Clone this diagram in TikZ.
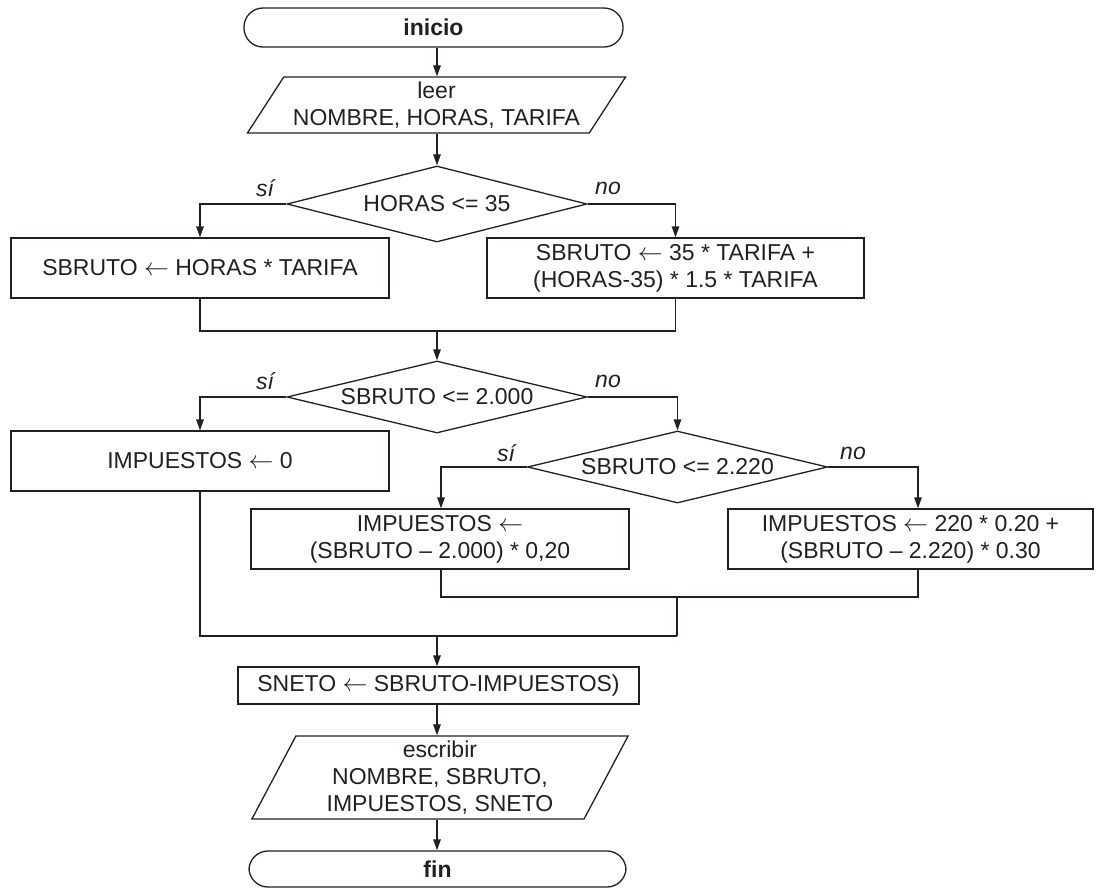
\documentclass[tikz,border=0pt]{standalone}
\usepackage{fontspec}
\setmainfont{Liberation Sans}
\usetikzlibrary{shapes.geometric,arrows.meta,calc}
\definecolor{ink}{HTML}{231F20}
\tikzset{
  base/.style={draw=ink, line width=1.3pt, text=ink, inner sep=0pt, align=center,
    font=\fontsize{23}{27}\selectfont},
  proc/.style={base, rectangle},
  term/.style={base, rectangle, rounded corners=19pt},
  io/.style={base, trapezium, trapezium stretches=true},
  cond/.style={base, diamond, aspect=4},
  flow/.style={draw=ink, line width=1.3pt, -{Triangle[length=11pt,width=7.5pt]}},
  link/.style={draw=ink, line width=1.3pt},
  tag/.style={text=ink, font=\fontsize{23}{27}\selectfont\itshape, inner sep=0pt}
}
\begin{document}
\begin{tikzpicture}[x=1pt,y=-1pt]
\useasboundingbox (0,0) rectangle (1096,887);

% start and input
\node[term, minimum width=379pt, minimum height=39pt] (inicio) at (433.5,27.5) {\bfseries inicio};
\node[io, trapezium left angle=53.8, trapezium right angle=126.2,
      minimum width=379pt, minimum height=56pt] (leer) at (436.5,105)
      {leer\\NOMBRE, HORAS, TARIFA};

% gross salary
\node[cond, minimum width=300pt, minimum height=76pt] (d1) at (437,204) {HORAS <= 35};
\node[proc, minimum width=378pt, minimum height=60pt] (b1) at (200,268)
      {SBRUTO $\leftarrow$ HORAS * TARIFA};
\node[proc, minimum width=377pt, minimum height=60pt] (b2) at (675.5,268)
      {SBRUTO $\leftarrow$ 35 * TARIFA +\\(HORAS-35) * 1.5 * TARIFA};

% taxes
\node[cond, minimum width=300pt, minimum height=72pt] (d2) at (437,397) {SBRUTO <= 2.000};
\node[proc, minimum width=378pt, minimum height=60pt] (b3) at (200,461)
      {IMPUESTOS $\leftarrow$ 0};
\node[cond, minimum width=300pt, minimum height=72pt] (d3) at (677.5,467) {SBRUTO <= 2.220};
\node[proc, minimum width=378pt, minimum height=60pt] (b4) at (440,539)
      {IMPUESTOS $\leftarrow$\\(SBRUTO -- 2.000) * 0,20};
\node[proc, minimum width=365pt, minimum height=60pt] (b5) at (910.5,539)
      {IMPUESTOS $\leftarrow$ 220 * 0.20 +\\(SBRUTO -- 2.220) * 0.30};

% net salary, output, end
\node[proc, minimum width=401pt, minimum height=37pt] (sneto) at (438.5,685.5)
      {SNETO $\leftarrow$ SBRUTO-IMPUESTOS)};
\node[io, trapezium left angle=64.8, trapezium right angle=115.2,
      minimum width=377pt, minimum height=83pt] (escribir) at (440,777.5)
      {escribir\\NOMBRE, SBRUTO,\\IMPUESTOS, SNETO};
\node[term, minimum width=377pt, minimum height=36pt] (fin) at (437.5,869) {\bfseries fin};

% junction points
\coordinate (m1) at (437,331);
\coordinate (m3) at (677,597);
\coordinate (m2) at (437,636);
\coordinate (r5) at (918,539);

% branch labels
\node[tag] at (265,188) {sí};
\node[tag] at (608,188) {no};
\node[tag] at (265,381) {sí};
\node[tag] at (608,381) {no};
\node[tag] at (506,453) {sí};
\node[tag] at (853,453) {no};

% connectors
\draw[flow] (inicio.south -| d1.north) -- (leer.north -| d1.north);
\draw[flow] (leer.south -| d1.north) -- (d1.north);
\draw[flow] (d1.west) -| (b1.north);
\draw[flow] (d1.east) -| (b2.north);
\draw[link] (b1.south) |- (m1) -| (b2.south);
\draw[flow] (m1) -- (d2.north);
\draw[flow] (d2.west) -| (b3.north);
\draw[flow] (d2.east) -| (d3.north);
\draw[flow] (d3.west) -| ($(b4.north)+(1,0)$);
\draw[flow] (d3.east) -| (r5 |- b5.north);
\draw[link] ($(b4.south)+(1,0)$) |- (m3) -| (r5 |- b5.south);
\draw[link] (m3) -- (m3 |- m2);
\draw[link] (b3.south) |- (m3 |- m2);
\draw[flow] (m2) -- (sneto.north -| m2);
\draw[flow] (sneto.south -| m2) -- (escribir.north -| m2);
\draw[flow] (escribir.south -| m2) -- (fin.north -| m2);
\end{tikzpicture}
\end{document}
